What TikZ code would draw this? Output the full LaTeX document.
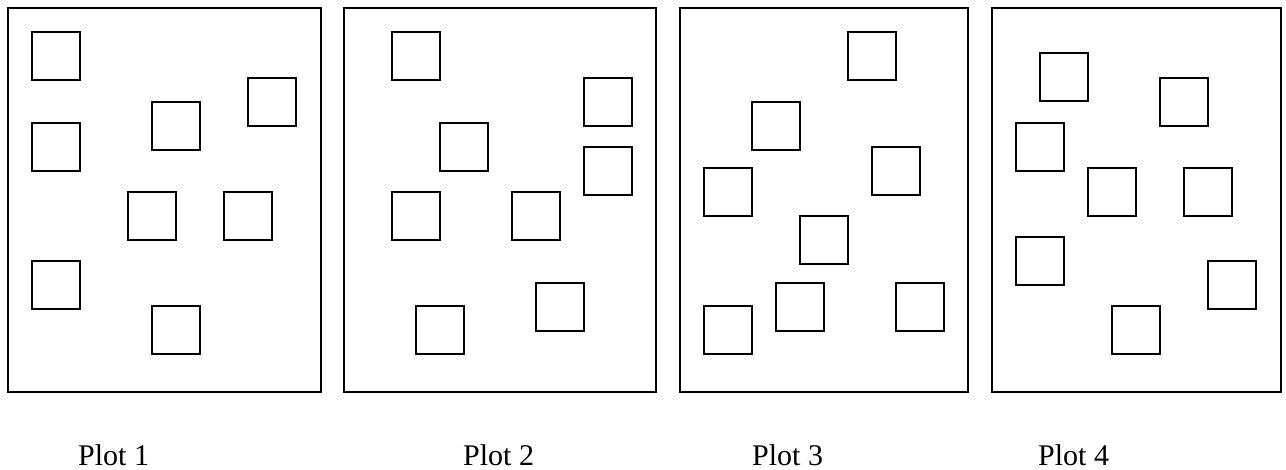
\documentclass[tikz,border=0pt]{standalone}
\usepackage{fontspec}
\setmainfont{Liberation Serif}
\begin{document}
\begin{tikzpicture}[x=1pt,y=-1pt,
  frame/.style={draw=black,line width=1.3pt},
  sq/.style={draw=black,line width=1.3pt,minimum size=48pt,inner sep=0pt,outer sep=0pt,anchor=north west},
  lbl/.style={anchor=base west,inner sep=0pt,font=\fontsize{30}{36}\selectfont}]
\useasboundingbox (0,0) rectangle (1286,469);
% frames
\draw[frame] (8,8) rectangle (321,392);
\draw[frame] (344,8) rectangle (656,392);
\draw[frame] (680,8) rectangle (968,392);
\draw[frame] (992,8) rectangle (1281,392);
% plot 1
\node[sq] (a1) at (32,32) {};
\node[sq] (a2) at (248,78) {};
\node[sq] (a3) at (152,102) {};
\node[sq] (a4) at (32,123) {};
\node[sq] (a5) at (128,192) {};
\node[sq] (a6) at (224,192) {};
\node[sq] (a7) at (32,261) {};
\node[sq] (a8) at (152,306) {};
% plot 2
\node[sq] (b1) at (392,32) {};
\node[sq] (b2) at (584,78) {};
\node[sq] (b3) at (440,123) {};
\node[sq] (b4) at (584,147) {};
\node[sq] (b5) at (392,192) {};
\node[sq] (b6) at (512,192) {};
\node[sq] (b7) at (536,283) {};
\node[sq] (b8) at (416,306) {};
% plot 3
\node[sq] (c1) at (848,32) {};
\node[sq] (c2) at (752,102) {};
\node[sq] (c3) at (872,147) {};
\node[sq] (c4) at (704,168) {};
\node[sq] (c5) at (800,216) {};
\node[sq] (c6) at (776,283) {};
\node[sq] (c7) at (896,283) {};
\node[sq] (c8) at (704,306) {};
% plot 4
\node[sq] (d1) at (1040,53) {};
\node[sq] (d2) at (1160,78) {};
\node[sq] (d3) at (1016,123) {};
\node[sq] (d4) at (1088,168) {};
\node[sq] (d5) at (1184,168) {};
\node[sq] (d6) at (1016,237) {};
\node[sq] (d7) at (1208,261) {};
\node[sq] (d8) at (1112,306) {};
% labels
\node[lbl] (l1) at (78,465) {Plot 1};
\node[lbl] (l2) at (463,465) {Plot 2};
\node[lbl] (l3) at (752,465) {Plot 3};
\node[lbl] (l4) at (1038,465) {Plot 4};
\end{tikzpicture}
\end{document}
